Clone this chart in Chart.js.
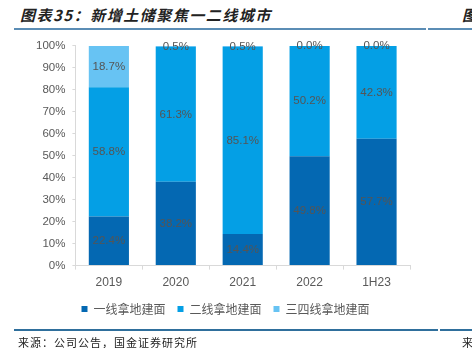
<!DOCTYPE html>
<html>
<head>
<meta charset="utf-8">
<script src="https://cdn.jsdelivr.net/npm/chart.js@4"></script>
<style>
  body { margin: 0; width: 472px; height: 348px; background: #fff; position: relative; overflow: hidden; }
  #title { position: absolute; left: 20px; top: 4px; font: italic bold 15px "Noto Sans CJK SC"; color: #222; letter-spacing: 1.5px; white-space: nowrap; }
  #title2 { position: absolute; left: 462px; top: 4px; font: italic bold 15px "Noto Sans CJK SC"; color: #222; }
  .rule { position: absolute; height: 2px; background: #5b8db5; }
  #src { position: absolute; left: 18px; top: 334px; font: 11px "Noto Sans CJK SC"; color: #222; letter-spacing: 1px; white-space: nowrap; }
  #src2 { position: absolute; left: 462px; top: 334px; font: 11px "Noto Sans CJK SC"; color: #222; }
  #wrap { position: absolute; left: 0; top: 32px; width: 472px; height: 298px; }
</style>
</head>
<body>
<div id="title">图表35：新增土储聚焦一二线城市</div>
<div id="title2">图</div>
<div class="rule" style="left:14px; top:28px; width:412px;"></div>
<div class="rule" style="left:428px; top:28px; width:44px;"></div>
<div id="wrap"><canvas id="grafico"></canvas></div>
<div class="rule" style="left:14px; top:329px; width:424px; background:#2f6f9c;"></div>
<div class="rule" style="left:440px; top:329px; width:32px; background:#2f6f9c;"></div>
<div id="src">来源：公司公告，国金证券研究所</div>
<div id="src2">来</div>
<script>
const anos = ['2019', '2020', '2021', '2022', '1H23'];
const primeira = [22.4, 38.2, 14.4, 49.8, 57.7];
const segunda = [58.8, 61.3, 85.1, 50.2, 42.3];
const terceira = [18.7, 0.5, 0.5, 0.0, 0.0];

const rotulos = {
  id: 'rotulos',
  afterLayout(chart) {
    // legend sits a bit right of the plot centre and closer to the axis in the original
    chart.legend.left += 6;
    chart.legend.right += 6;
    chart.legend.top -= 5;
    chart.legend.bottom -= 5;
  },
  afterDatasetsDraw(chart) {
    const ctx = chart.ctx;
    ctx.save();
    ctx.font = '11.5px "Liberation Sans"';
    ctx.fillStyle = '#555555';
    ctx.textAlign = 'center';
    ctx.textBaseline = 'middle';
    chart.data.datasets.forEach((ds, i) => {
      chart.getDatasetMeta(i).data.forEach((bar, j) => {
        ctx.fillText(ds.data[j].toFixed(1) + '%', bar.x, (bar.y + bar.base) / 2);
      });
    });
    ctx.restore();
  }
};

const config = {
  type: 'bar',
  data: {
    labels: anos,
    datasets: [
      { label: '一线拿地建面', data: primeira, backgroundColor: '#0468b2' },
      { label: '二线拿地建面', data: segunda, backgroundColor: '#049fe5' },
      { label: '三四线拿地建面', data: terceira, backgroundColor: '#67c3f3' }
    ]
  },
  options: {
    responsive: true,
    maintainAspectRatio: false,
    animation: false,
    layout: { padding: { left: 29, right: 62, top: 9, bottom: 0 } },
    datasets: { bar: { barPercentage: 0.6, categoryPercentage: 1 } },
    plugins: {
      tooltip: { enabled: false },
      legend: {
        position: 'bottom',
        labels: {
          boxWidth: 6, boxHeight: 6, padding: 12,
          color: '#595959',
          font: { family: '"Noto Sans CJK SC"', size: 12 }
        }
      }
    },
    scales: {
      x: {
        stacked: true,
        grid: { display: true, drawOnChartArea: false, color: '#d9d9d9', tickLength: 4 },
        border: { color: '#d9d9d9' },
        ticks: { color: '#595959', font: { family: '"Liberation Sans"', size: 12 }, padding: 6 }
      },
      y: {
        stacked: true,
        min: 0, max: 100,
        grid: { display: true, drawOnChartArea: false, color: '#d9d9d9', tickLength: 3 },
        border: { display: true, color: '#d9d9d9' },
        ticks: {
          stepSize: 10, color: '#595959', padding: 7,
          font: { family: '"Liberation Sans"', size: 11.5 },
          callback: (v) => v + '%'
        }
      }
    }
  },
  plugins: [rotulos]
};

new Chart(document.getElementById('grafico').getContext('2d'), config);
</script>
</body>
</html>
